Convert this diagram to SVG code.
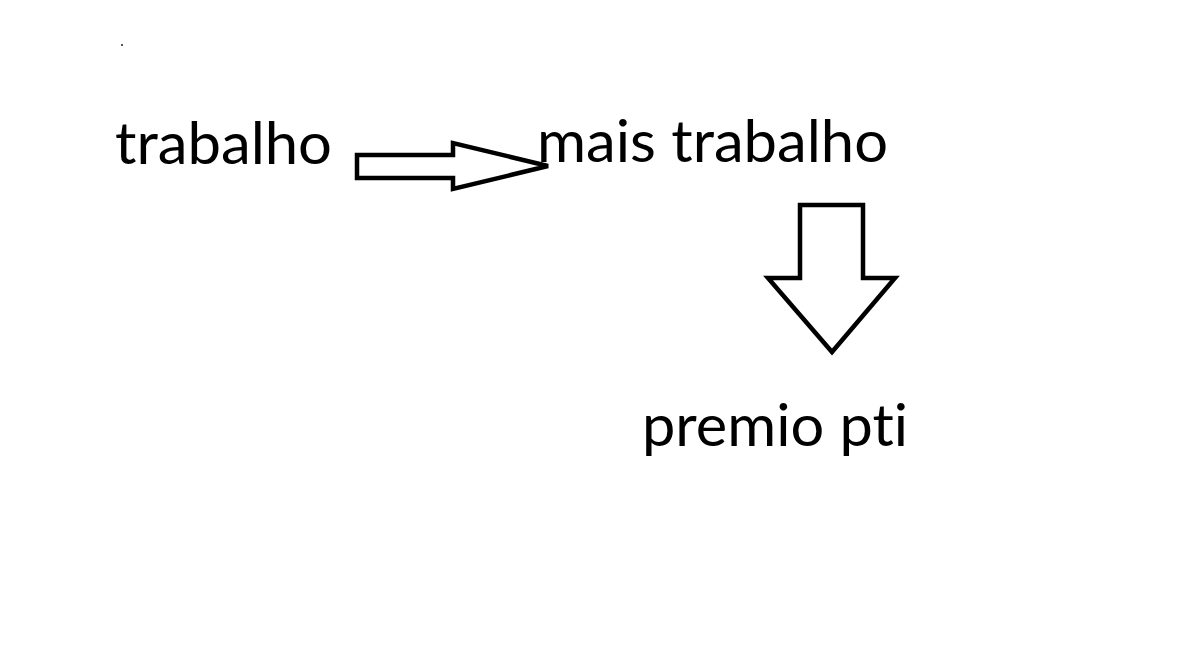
<svg xmlns="http://www.w3.org/2000/svg" width="1177" height="648" viewBox="0 0 1177 648">
<style>
.lbl{font-family:Lato,"Open Sans","Liberation Sans",sans-serif;font-size:59px;fill:#000;font-variant-ligatures:none;font-feature-settings:"liga" 0}
.arr{fill:#fff;stroke:#000;stroke-width:4.5;stroke-linejoin:miter}
</style>
<rect width="1177" height="648" fill="#fff"/>
<rect x="121" y="44" width="2" height="2" fill="#555"/>
<g id="connectors">
<polygon class="arr" points="357,155 453,155 453,143 548,166 453,189 453,178 357,178"/>
<polygon class="arr" points="800,205 863,205 863,278 895,278 832,352 768,278 800,278"/>
</g>
<g id="node-trabalho"><text class="lbl" x="115" y="164" textLength="217" lengthAdjust="spacingAndGlyphs">trabalho</text></g>
<g id="node-mais-trabalho"><text class="lbl" x="537" y="162" textLength="351" lengthAdjust="spacingAndGlyphs">mais trabalho</text></g>
<g id="node-premio"><text class="lbl" x="642" y="446" textLength="266" lengthAdjust="spacingAndGlyphs">premio pti</text></g>
</svg>
